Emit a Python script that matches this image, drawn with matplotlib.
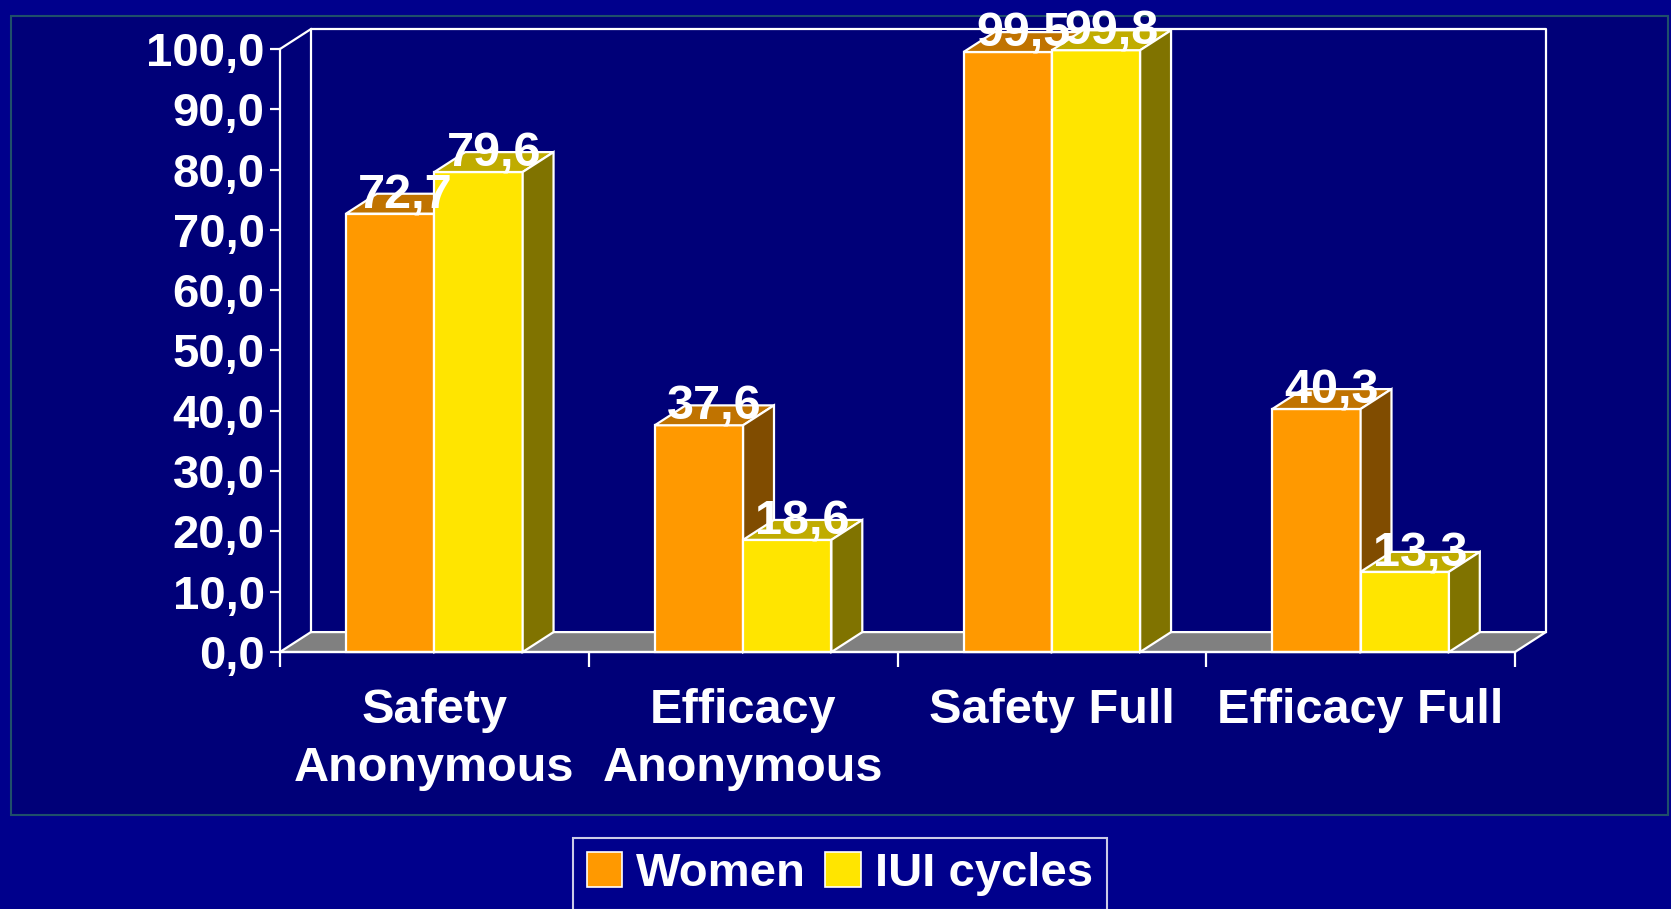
import matplotlib.pyplot as plt
from matplotlib.patches import Polygon, Rectangle, Patch

categories = ['Safety\nAnonymous', 'Efficacy\nAnonymous', 'Safety Full', 'Efficacy Full']
women = [72.7, 37.6, 99.5, 40.3]
iui_cycles = [79.6, 18.6, 99.8, 13.3]
series_names = ['Women', 'IUI cycles']
yticks = list(range(0, 101, 10))

# face colours: front, top, side
orange = ('#FF9900', '#C07300', '#804C00')
yellow = ('#FFE500', '#C0AC00', '#807300')

outer_bg = '#00008C'
inner_bg = '#000078'
font = ['Liberation Sans', 'DejaVu Sans']
fs = 35

plt.rcParams['font.family'] = font
plt.rcParams['font.weight'] = 'bold'

fig = plt.figure(figsize=(16.71, 9.09), dpi=100)
fig.patch.set_facecolor(outer_bg)
fig.patches.append(Rectangle((11 / 1671, 94 / 909), 1657 / 1671, 799 / 909,
                             transform=fig.transFigure, facecolor=inner_bg,
                             edgecolor='#1F4F6A', linewidth=1.5, zorder=-5))

dx, dy = 0.1, 3.3
ax = fig.add_axes([280 / 1671, 257 / 909, (4 + dx) * 308.75 / 1671, (100 + dy) * 6.03 / 909])
ax.set_zorder(2)
ax.set_facecolor('none')
ax.set_xlim(0, 4 + dx)
ax.set_ylim(0, 100 + dy)

ew = 1.6
# floor
ax.add_patch(Polygon([(0, 0), (4, 0), (4 + dx, dy), (dx, dy)], closed=True,
                     facecolor='#808080', edgecolor='white', linewidth=ew, clip_on=False))
# back wall
ax.plot([dx, dx, 4 + dx, 4 + dx], [dy, 100 + dy, 100 + dy, dy], color='white', lw=ew, clip_on=False)
ax.plot([0, dx], [100, 100 + dy], color='white', lw=ew, clip_on=False)

bw = 0.286


def bar3d(x0, v, cols):
    x1 = x0 + bw
    ax.add_patch(Polygon([(x0, 0), (x1, 0), (x1, v), (x0, v)], facecolor=cols[0],
                         edgecolor='white', lw=ew, clip_on=False, zorder=3))
    ax.add_patch(Polygon([(x0, v), (x1, v), (x1 + dx, v + dy), (x0 + dx, v + dy)],
                         facecolor=cols[1], edgecolor='white', lw=ew, clip_on=False, zorder=3))
    ax.add_patch(Polygon([(x1, 0), (x1 + dx, dy), (x1 + dx, v + dy), (x1, v)],
                         facecolor=cols[2], edgecolor='white', lw=ew, clip_on=False, zorder=3))


for i in range(len(categories)):
    c = i + 0.5
    bar3d(c - bw, women[i], orange)
    bar3d(c, iui_cycles[i], yellow)

for i in range(len(categories)):
    c = i + 0.5
    for x0, v in [(c - bw, women[i]), (c, iui_cycles[i])]:
        ax.text(x0 + bw / 2 + dx / 2, v + 0.9, f'{v:.1f}'.replace('.', ','),
                ha='center', va='baseline', color='white', fontsize=fs,
                fontweight='bold', zorder=5)

for s in ['top', 'right', 'bottom']:
    ax.spines[s].set_visible(False)
ax.spines['left'].set_color('white')
ax.spines['left'].set_linewidth(ew)
ax.spines['left'].set_bounds(0, 100)
ax.plot([0, 4], [0, 0], color='white', lw=ew, clip_on=False, zorder=4)

ax.set_yticks(yticks, labels=[f'{t:.1f}'.replace('.', ',') for t in yticks])
ax.set_xticks(range(5), labels=[''] * 5)
ax.set_xticks([i + 0.5 for i in range(4)], labels=categories, minor=True)
ax.tick_params(axis='y', colors='white', labelsize=fs - 1, direction='out', length=7, width=ew, pad=4)
ax.tick_params(axis='x', which='major', colors='white', direction='out', length=11, width=ew)
ax.tick_params(axis='x', which='minor', colors='white', labelsize=fs, length=0, pad=26)
for lab in ax.get_xticklabels(minor=True):
    lab.set_linespacing(1.37)
    lab.set_fontweight('bold')
for lab in ax.get_yticklabels():
    lab.set_fontweight('bold')

handles = [Patch(facecolor=orange[0], edgecolor='white', lw=1.2),
           Patch(facecolor=yellow[0], edgecolor='white', lw=1.2)]
leg = fig.legend(handles, series_names, loc='upper center', bbox_to_anchor=(0.5026, 71 / 909),
                 ncol=2, frameon=True, fancybox=False, fontsize=34,
                 handlelength=0.75, handleheight=0.75, handletextpad=0.3,
                 columnspacing=0.4, borderpad=0.3, borderaxespad=0)
leg.get_frame().set_facecolor(outer_bg)
leg.get_frame().set_edgecolor('white')
leg.get_frame().set_linewidth(1.5)
for t in leg.get_texts():
    t.set_color('white')
    t.set_fontweight('bold')

fig.savefig('out.png', dpi=100, facecolor=fig.get_facecolor())
